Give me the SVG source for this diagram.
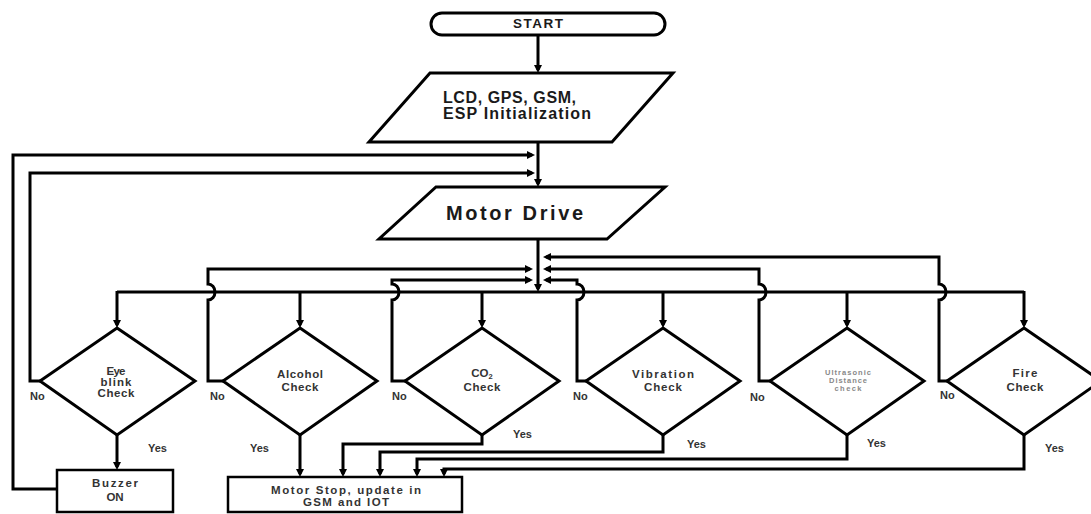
<svg xmlns="http://www.w3.org/2000/svg" width="1091" height="514" viewBox="0 0 1091 514">
<style>
.sh{fill:#fff;stroke:#000;stroke-width:3;stroke-linejoin:miter}
.bx{fill:#fff;stroke:#000;stroke-width:2.5}
.cn{fill:none;stroke:#000;stroke-width:3;stroke-linejoin:miter}
.t{font-family:"Liberation Sans",Arial,sans-serif;font-weight:bold;fill:#1a1a1a}
.s{font-family:"Liberation Sans",Arial,sans-serif;font-weight:bold;fill:#333;font-size:11.5px;text-anchor:middle}
.u{font-family:"Liberation Sans",Arial,sans-serif;font-weight:bold;fill:#888;font-size:7.5px;text-anchor:middle}
.lb{font-family:"Liberation Sans",Arial,sans-serif;font-weight:bold;fill:#333;font-size:11px}
</style>
<defs>
<marker id="ah" markerWidth="8" markerHeight="8" refX="5" refY="4" orient="auto" markerUnits="userSpaceOnUse"><path d="M0,0 L8,4 L0,8 Z" fill="#000"/></marker>
</defs>
<rect width="1091" height="514" fill="#fff"/>

<g id="start">
<rect class="sh" x="431" y="13" width="234" height="22" rx="11" ry="11"/>
<text class="t" x="538" y="28" font-size="13.5" text-anchor="middle" textLength="50">START</text>
</g>

<g id="init">
<polygon class="sh" points="430,73 673,73 612,142 369,142"/>
<text class="t" x="443" y="103" font-size="16" textLength="133">LCD, GPS, GSM,</text>
<text class="t" x="443" y="119" font-size="16" textLength="148">ESP Initialization</text>
</g>

<g id="motor-drive">
<polygon class="sh" points="436,187 665,187 607,239 379,239"/>
<text class="t" x="446" y="220" font-size="20" textLength="137">Motor Drive</text>
</g>

<g id="connectors">
<path class="cn" d="M538,35 V70" marker-end="url(#ah)"/>
<path class="cn" d="M538,142 V184" marker-end="url(#ah)"/>
<path class="cn" d="M57,489 H13 V155 H532" marker-end="url(#ah)"/>
<path class="cn" d="M40,381 H30 V173 H532" marker-end="url(#ah)"/>
<path class="cn" d="M538,239 V289" marker-end="url(#ah)"/>
<path class="cn" d="M117,292 H1024"/>
<path class="cn" d="M117,291 V325" marker-end="url(#ah)"/>
<path class="cn" d="M300,292 V325" marker-end="url(#ah)"/>
<path class="cn" d="M482,292 V325" marker-end="url(#ah)"/>
<path class="cn" d="M663,292 V325" marker-end="url(#ah)"/>
<path class="cn" d="M847,292 V325" marker-end="url(#ah)"/>
<path class="cn" d="M1024,291 V325" marker-end="url(#ah)"/>
<path class="cn" d="M223,381 H208 V300 A7,8 0 0 0 208,284 V269 H530" marker-end="url(#ah)"/>
<path class="cn" d="M405,381 H392 V300 A7,8 0 0 0 392,284 V280 H530" marker-end="url(#ah)"/>
<path class="cn" d="M586,381 H577 V300 A7,8 0 0 0 577,284 V280 H546" marker-end="url(#ah)"/>
<path class="cn" d="M770,381 H759 V300 A7,8 0 0 0 759,284 V269 H546" marker-end="url(#ah)"/>
<path class="cn" d="M947,381 H939 V300 A7,8 0 0 0 939,284 V257 H546" marker-end="url(#ah)"/>
<path class="cn" d="M117,435 V467" marker-end="url(#ah)"/>
<path class="cn" d="M300,435 V474" marker-end="url(#ah)"/>
<path class="cn" d="M482,435 V444 H343 V474" marker-end="url(#ah)"/>
<path class="cn" d="M663,435 V452 H380 V474" marker-end="url(#ah)"/>
<path class="cn" d="M847,435 V459 H417 V474" marker-end="url(#ah)"/>
<path class="cn" d="M1024,435 V469 H444 V474" marker-end="url(#ah)"/>
</g>

<g id="eye-blink">
<polygon class="sh" points="117,328 195,381 117,435 40,381"/>
<text class="s" x="116" y="375" textLength="19">Eye</text>
<text class="s" x="116" y="386" textLength="31">blink</text>
<text class="s" x="116" y="397" textLength="37">Check</text>
<text class="lb" x="30" y="400">No</text>
<text class="lb" x="148" y="452">Yes</text>
</g>

<g id="alcohol">
<polygon class="sh" points="300,328 377,381 300,435 223,381"/>
<text class="s" x="300" y="378" textLength="46">Alcohol</text>
<text class="s" x="300" y="391" textLength="37">Check</text>
<text class="lb" x="210" y="400">No</text>
<text class="lb" x="250" y="452">Yes</text>
</g>

<g id="co2">
<polygon class="sh" points="482,328 559,381 482,435 405,381"/>
<text class="s" x="482" y="377">CO<tspan font-size="7.5" dy="2">2</tspan></text>
<text class="s" x="482" y="391" textLength="37">Check</text>
<text class="lb" x="392" y="400">No</text>
<text class="lb" x="513" y="438">Yes</text>
</g>

<g id="vibration">
<polygon class="sh" points="663,328 740,381 663,435 586,381"/>
<text class="s" x="663" y="378" textLength="62">Vibration</text>
<text class="s" x="663" y="391" textLength="38">Check</text>
<text class="lb" x="573" y="400">No</text>
<text class="lb" x="687" y="448">Yes</text>
</g>

<g id="ultrasonic">
<polygon class="sh" points="847,328 924,381 847,435 770,381"/>
<text class="u" x="848" y="375" textLength="46">Ultrasonic</text>
<text class="u" x="848" y="383" textLength="38">Distance</text>
<text class="u" x="848" y="391" textLength="27">check</text>
<text class="lb" x="750" y="401">No</text>
<text class="lb" x="867" y="447">Yes</text>
</g>

<g id="fire">
<polygon class="sh" points="1024,328 1101,381 1024,435 947,381"/>
<text class="s" x="1025" y="377" textLength="25">Fire</text>
<text class="s" x="1025" y="391" textLength="37">Check</text>
<text class="lb" x="940" y="399">No</text>
<text class="lb" x="1045" y="452">Yes</text>
</g>

<g id="buzzer">
<rect class="bx" x="57" y="470" width="116" height="42"/>
<text class="s" x="115" y="487" textLength="46">Buzzer</text>
<text class="s" x="115" y="501">ON</text>
</g>

<g id="motor-stop">
<rect class="bx" x="228" y="477" width="234" height="35"/>
<text class="s" x="346" y="494" textLength="150">Motor Stop, update in</text>
<text class="s" x="346" y="506" textLength="86">GSM and IOT</text>
</g>
</svg>
